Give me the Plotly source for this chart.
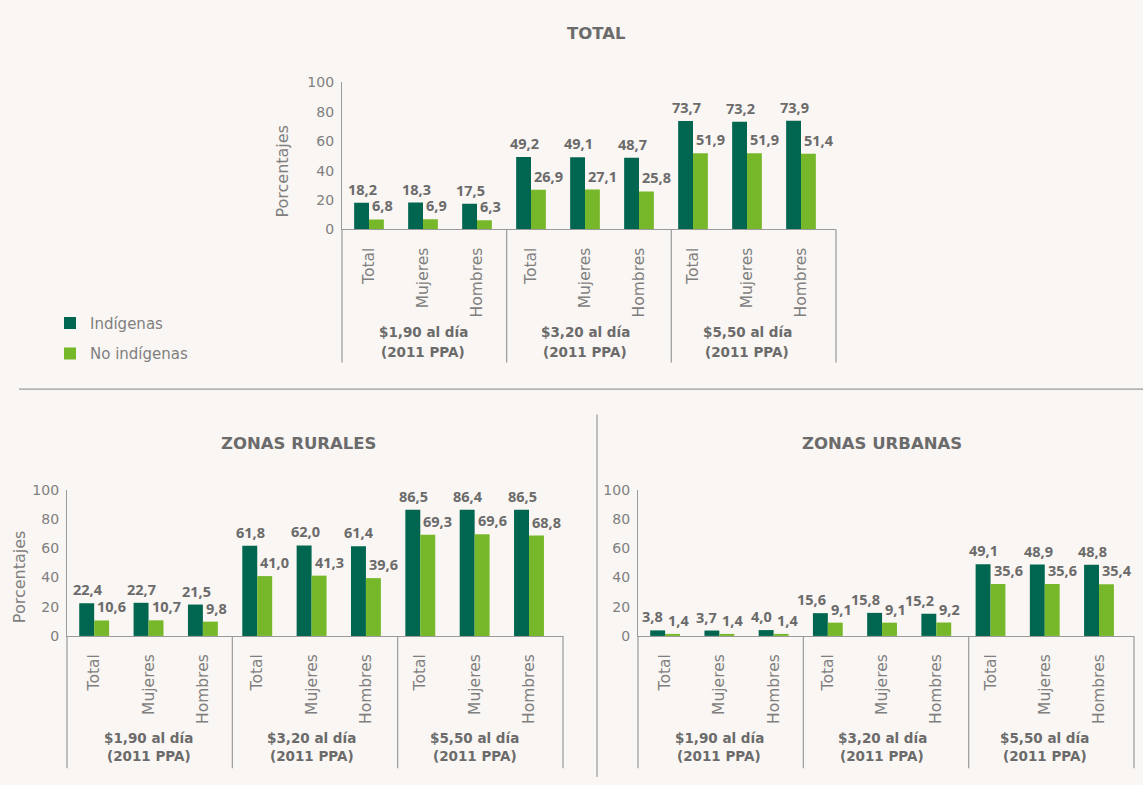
import plotly.graph_objects as go

W, H = 1143, 785

subcats = ["Total", "Mujeres", "Hombres"]
groups = ["$1,90 al día", "$3,20 al día", "$5,50 al día"]
group_note = "(2011 PPA)"

total_ind = [18.2, 18.3, 17.5, 49.2, 49.1, 48.7, 73.7, 73.2, 73.9]
total_no = [6.8, 6.9, 6.3, 26.9, 27.1, 25.8, 51.9, 51.9, 51.4]
rural_ind = [22.4, 22.7, 21.5, 61.8, 62.0, 61.4, 86.5, 86.4, 86.5]
rural_no = [10.6, 10.7, 9.8, 41.0, 41.3, 39.6, 69.3, 69.6, 68.8]
urban_ind = [3.8, 3.7, 4.0, 15.6, 15.8, 15.2, 49.1, 48.9, 48.8]
urban_no = [1.4, 1.4, 1.4, 9.1, 9.1, 9.2, 35.6, 35.6, 35.4]

series_names = ["Indígenas", "No indígenas"]
titles = ["TOTAL", "ZONAS RURALES", "ZONAS URBANAS"]

DARK = "#00664f"
LIGHT = "#76b82a"
BG = "#faf6f3"
TXT = "#6b6b6b"
TICK = "#7f7f7f"
AXIS = "#9a9a9a"
FONT = "DejaVu Sans"
LABEL_FONT = "Open Sans"
BARGAP = 0.45

x_ids = [f"{g}|{c}" for g in groups for c in subcats]
tick_text = [c for g in groups for c in subcats]


def px_x(p):
    return p / W


def px_y(p):
    return 1 - p / H


# panel geometry in pixels: (x0, x1, y_zero, y_top, bottom_of_dividers, group label rows)
panels = [
    (342, 836, 226, 76, 362, (331, 351)),
    (67, 563, 641, 492, 776, (745, 764)),
    (638, 1134, 641, 492, 776, (745, 764)),
]
data_sets = [(total_ind, total_no), (rural_ind, rural_no), (urban_ind, urban_no)]

fig = go.Figure()
shapes = []
annotations = []

for i, ((x0, x1, y0, y1, ybot, rows), (ind, no)) in enumerate(zip(panels, data_sets)):
    sfx = "" if i == 0 else str(i + 1)
    xa, ya = "x" + sfx, "y" + sfx
    cat_w = (x1 - x0) / len(x_ids)
    bw = (1 - BARGAP) * cat_w / 2
    px_per_unit = (y0 - y1) / 100.0
    for k, (name, vals, col) in enumerate([(series_names[0], ind, DARK), (series_names[1], no, LIGHT)]):
        fig.add_trace(go.Bar(
            x=x_ids, y=vals, name=name, marker_color=col,
            marker_line_width=0,
            xaxis=xa, yaxis=ya, showlegend=(i == 0), legendgroup=name,
            hovertemplate="%{y:.1f}<extra>" + name + "</extra>",
        ))
    # value labels (dark label pushed left when it would collide with the light one)
    for xid, vd, vl in zip(x_ids, ind, no):
        close = (vd - vl) * px_per_unit < 14
        annotations.append(dict(
            xref=xa, yref=ya, x=xid, y=vd,
            text="<b>" + f"{vd:.1f}".replace(".", ",") + "</b>", showarrow=False,
            font=dict(family=LABEL_FONT, size=14.5, color=TXT),
            xanchor="right" if close else "center",
            xshift=0 if close else -bw / 2 + 1,
            yanchor="bottom", yshift=2,
        ))
        annotations.append(dict(
            xref=xa, yref=ya, x=xid, y=vl,
            text="<b>" + f"{vl:.1f}".replace(".", ",") + "</b>", showarrow=False,
            font=dict(family=LABEL_FONT, size=14.5, color=TXT),
            xanchor="left", xshift=1,
            yanchor="bottom", yshift=2,
        ))
    fig.layout["xaxis" + sfx] = dict(
        domain=[px_x(x0), px_x(x1)], anchor=ya,
        type="category", categoryorder="array", categoryarray=x_ids,
        tickvals=x_ids, ticktext=tick_text, tickangle=-90,
        tickfont=dict(family=FONT, size=15.5, color=TICK),
        ticks="", ticklabelstandoff=11,
        showline=True, linecolor=AXIS, linewidth=1.2,
        showgrid=False, zeroline=False, fixedrange=True,
    )
    fig.layout["yaxis" + sfx] = dict(
        domain=[px_y(y0), px_y(y1)], anchor=xa,
        range=[0, 100], tickvals=[0, 20, 40, 60, 80, 100],
        tickfont=dict(family=FONT, size=14, color=TICK),
        ticks="", ticklabelstandoff=4,
        showline=True, linecolor=AXIS, linewidth=1.2,
        showgrid=False, zeroline=False, fixedrange=True,
    )
    for f in [0, 1 / 3, 2 / 3, 1]:
        shapes.append(dict(type="line", xref=xa + " domain", yref="paper",
                           x0=f, x1=f, y0=px_y(y0), y1=px_y(ybot),
                           line=dict(color=AXIS, width=1.2)))
    for g in groups:
        for line_text, ry in [(g, rows[0]), (group_note, rows[1])]:
            annotations.append(dict(
                xref=xa, yref="paper", x=f"{g}|{subcats[1]}", y=px_y(ry),
                text=f"<b>{line_text}</b>", showarrow=False,
                font=dict(family=FONT, size=13.5, color=TXT),
                xanchor="center", yanchor="middle",
            ))

title_pos = [(596, 26), (299, 445), (882, 445)]
for t, (tx, ty) in zip(titles, title_pos):
    annotations.append(dict(xref="paper", yref="paper", x=px_x(tx), y=px_y(ty),
                            text=f"<b>{t}</b>", showarrow=False,
                            font=dict(family=FONT, size=16.5, color=TXT),
                            xanchor="center", yanchor="middle"))

for yx, yy in [(283, 167), (19, 581)]:
    annotations.append(dict(xref="paper", yref="paper", x=px_x(yx), y=px_y(yy),
                            text="Porcentajes", textangle=-90, showarrow=False,
                            font=dict(family=FONT, size=16, color=TICK),
                            xanchor="center", yanchor="middle"))

shapes.append(dict(type="line", xref="paper", yref="paper", x0=px_x(19), x1=1,
                   y0=px_y(389), y1=px_y(389), line=dict(color=AXIS, width=1.2)))
shapes.append(dict(type="line", xref="paper", yref="paper", x0=px_x(597), x1=px_x(597),
                   y0=px_y(415), y1=0, line=dict(color=AXIS, width=1.2)))

fig.update_layout(
    width=W, height=H, margin=dict(l=0, r=0, t=0, b=0),
    paper_bgcolor=BG, plot_bgcolor=BG,
    separators=",.", barmode="group", bargap=BARGAP, bargroupgap=0,
    shapes=shapes, annotations=annotations,
    legend=dict(x=px_x(50), y=px_y(305), xanchor="left", yanchor="top",
                font=dict(family=FONT, size=15, color=TICK),
                bgcolor="rgba(0,0,0,0)", tracegroupgap=8, itemwidth=30),
    font=dict(family=FONT),
)

post = (
    "document.documentElement.style.margin='0';"
    "document.body.style.margin='0';"
    "document.body.style.overflow='hidden';"
    "var gd=document.getElementById('{plot_id}');"
    "gd.style.position='fixed';gd.style.top='0px';gd.style.left='0px';"
)
fig.write_html("out.html", config={"displayModeBar": False}, post_script=post)
